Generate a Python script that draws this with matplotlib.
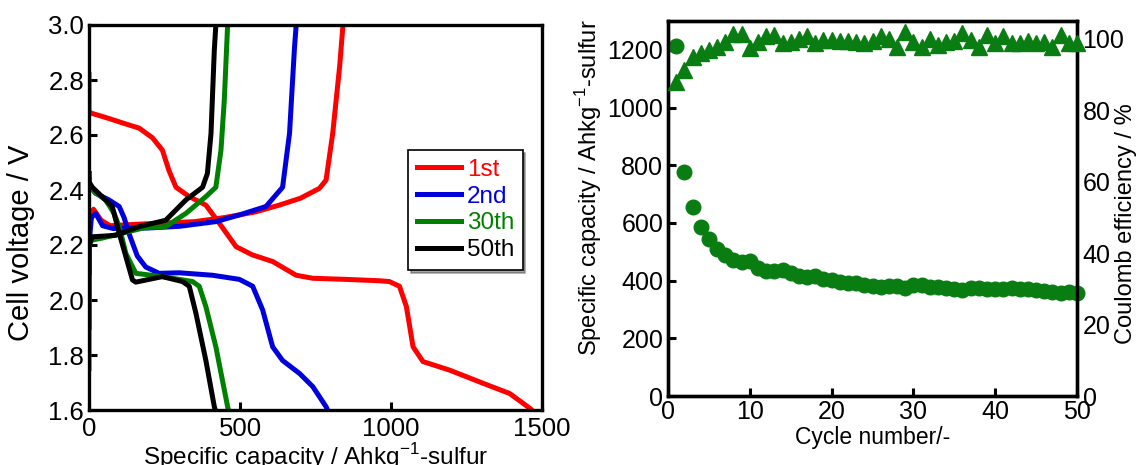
import matplotlib
matplotlib.use("Agg")
import matplotlib.pyplot as plt
from matplotlib.ticker import FormatStrFormatter

plt.rcParams['font.family'] = ['Liberation Sans', 'DejaVu Sans']
plt.rcParams['mathtext.fontset'] = 'custom'
plt.rcParams['mathtext.rm'] = 'Liberation Sans'
plt.rcParams['font.size'] = 18

# left panel: charge/discharge curves (capacity in Ah/kg, voltage in V)
dis1_x = [0, 0, 6, 66, 122, 166, 210, 243, 265, 288, 332, 387, 431, 487, 541, 608, 686, 741, 850, 962, 995, 1028, 1051, 1073, 1106, 1194, 1305, 1393, 1460, 1466]
dis1_v = [2.82, 2.68, 2.68, 2.66, 2.64, 2.625, 2.59, 2.545, 2.47, 2.41, 2.376, 2.345, 2.28, 2.194, 2.164, 2.14, 2.09, 2.079, 2.075, 2.07, 2.067, 2.05, 1.976, 1.83, 1.776, 1.745, 1.697, 1.66, 1.606, 1.6]
chg1_x = [0, 0, 5, 15, 40, 70, 150, 250, 350, 450, 550, 630, 700, 763, 785, 807, 830, 841]
chg1_v = [1.75, 2.25, 2.31, 2.33, 2.29, 2.27, 2.275, 2.28, 2.285, 2.3, 2.32, 2.345, 2.37, 2.406, 2.436, 2.606, 2.85, 3.0]

dis2_x = [0, 0, 22, 66, 100, 116, 133, 160, 188, 232, 299, 409, 498, 542, 575, 608, 641, 697, 741, 785, 790]
dis2_v = [2.44, 2.42, 2.388, 2.364, 2.34, 2.30, 2.24, 2.16, 2.12, 2.097, 2.099, 2.09, 2.075, 2.05, 1.964, 1.83, 1.78, 1.733, 1.685, 1.612, 1.6]
chg2_x = [0, 0, 8, 22, 45, 80, 200, 300, 420, 500, 586, 641, 664, 680, 686]
chg2_v = [1.9, 2.2, 2.30, 2.315, 2.27, 2.26, 2.262, 2.268, 2.285, 2.31, 2.34, 2.41, 2.606, 2.91, 3.0]

dis30_x = [0, 0, 17, 55, 83, 100, 122, 155, 243, 343, 365, 387, 420, 459, 462]
dis30_v = [2.46, 2.42, 2.394, 2.364, 2.315, 2.267, 2.17, 2.097, 2.085, 2.067, 2.05, 1.976, 1.83, 1.612, 1.6]
chg30_x = [0, 0, 10, 43, 110, 180, 254, 321, 387, 420, 437, 448, 459]
chg30_v = [2.0, 2.2, 2.218, 2.225, 2.243, 2.262, 2.267, 2.315, 2.376, 2.41, 2.545, 2.727, 3.0]

dis50_x = [0, 0, 11, 77, 100, 144, 155, 243, 310, 332, 354, 387, 415, 418]
dis50_v = [2.46, 2.43, 2.41, 2.34, 2.243, 2.073, 2.065, 2.085, 2.067, 2.05, 1.952, 1.78, 1.612, 1.6]
chg50_x = [0, 0, 11, 43, 88, 166, 254, 321, 376, 392, 404, 415, 420]
chg50_v = [2.1, 2.2, 2.23, 2.232, 2.235, 2.267, 2.29, 2.364, 2.41, 2.46, 2.606, 2.91, 3.0]

labels = ['1st', '2nd', '30th', '50th']
colors = ['#ff0000', '#0000dd', '#008000', '#000000']

# right panel: cycling data
cycles = list(range(1, 51))
capacity = [1214, 775, 654, 587, 543, 509, 489, 472, 465, 468,
            445, 434, 434, 437, 428, 416, 413, 416, 407, 402,
            396, 393, 391, 386, 382, 379, 382, 382, 373, 386,
            384, 378, 378, 373, 370, 368, 376, 376, 370, 372,
            372, 376, 372, 370, 368, 363, 362, 356, 361, 358]
efficiency = [88.0, 91.3, 94.8, 96.0, 96.9, 97.8, 99.2, 101.3, 101.3, 97.5,
              99.2, 100.9, 101.1, 98.8, 99.0, 100.0, 100.8, 98.9, 99.7, 99.7,
              99.5, 99.5, 99.2, 98.8, 99.5, 100.8, 99.9, 97.8, 102.0, 99.2,
              97.8, 99.9, 98.3, 99.2, 99.5, 101.6, 99.7, 97.8, 101.1, 98.9,
              100.8, 98.9, 98.8, 99.5, 98.9, 99.2, 97.8, 101.1, 98.9, 98.9]

W, H = 1136, 465
fig = plt.figure(figsize=(W / 100, H / 100), dpi=100)

ax1 = fig.add_axes([89 / W, 1 - 410 / H, 453 / W, 385 / H])
curves = [(dis1_x, dis1_v, chg1_x, chg1_v), (dis2_x, dis2_v, chg2_x, chg2_v),
          (dis30_x, dis30_v, chg30_x, chg30_v), (dis50_x, dis50_v, chg50_x, chg50_v)]
for (dx, dv, cx, cv), lab, col in zip(curves, labels, colors):
    ax1.plot(dx, dv, color=col, lw=3.6, label=lab, solid_joinstyle='round')
    ax1.plot(cx, cv, color=col, lw=3.6, solid_joinstyle='round')
ax1.set_xlim(0, 1500)
ax1.set_ylim(1.6, 3.0)
ax1.set_xticks([0, 500, 1000, 1500])
ax1.set_yticks([1.6, 1.8, 2.0, 2.2, 2.4, 2.6, 2.8, 3.0])
ax1.yaxis.set_major_formatter(FormatStrFormatter('%.1f'))
ax1.tick_params(direction='in', length=6, width=2.2, top=False, right=False, labelsize=18.5)
ax1.tick_params(axis='x', pad=5)
for s in ax1.spines.values():
    s.set_linewidth(2.4)
ax1.set_ylabel('Cell voltage / V', fontsize=21)
ax1.yaxis.set_label_coords(-0.12, 0.434)
ax1.set_xlabel('Specific capacity / Ahkg$^{\\mathregular{-1}}$-sulfur', fontsize=17.5, labelpad=0)
leg = ax1.legend(loc='upper left', bbox_to_anchor=(0.705, 0.675), frameon=True,
                 fancybox=False, shadow=True, edgecolor='black', labelcolor='linecolor',
                 handlelength=1.8, handletextpad=0.25, borderpad=0.35, labelspacing=0.2,
                 borderaxespad=0, fontsize=17.5)
leg.get_frame().set_linewidth(1.2)

ax2 = fig.add_axes([668 / W, 1 - 396 / H, 409 / W, 375 / H])
ax2.plot(cycles, capacity, 'o', color='#0a7d12', ms=10.5, clip_on=False, zorder=3)
ax2.set_xlim(0, 50)
ax2.set_ylim(0, 1300)
ax2.set_xticks([0, 10, 20, 30, 40, 50])
ax2.set_yticks([0, 200, 400, 600, 800, 1000, 1200])
ax2.tick_params(direction='in', length=6, width=2.2, top=False, right=False, labelsize=18)
ax2.tick_params(axis='x', pad=3)
for s in ax2.spines.values():
    s.set_linewidth(2.4)
ax2.set_xlabel('Cycle number/-', fontsize=16.5, labelpad=1)
ax2.set_ylabel('Specific capacity / Ahkg$^{\\mathregular{-1}}$-sulfur', fontsize=17)
ax2.yaxis.set_label_coords(-0.157, 0.555)

ax3 = ax2.twinx()
ax3.plot(cycles, efficiency, '^', color='#0a7d12', ms=11, clip_on=False, zorder=3)
ax3.set_ylim(0, 105)
ax3.set_yticks([0, 20, 40, 60, 80, 100])
ax3.tick_params(direction='in', length=0, pad=4, labelsize=18)
ax3.set_ylabel('Coulomb efficiency / %', fontsize=17)
ax3.yaxis.set_label_coords(1.093, 0.46)
for s in ax3.spines.values():
    s.set_linewidth(2.4)

fig.savefig('out.png', dpi=100)
